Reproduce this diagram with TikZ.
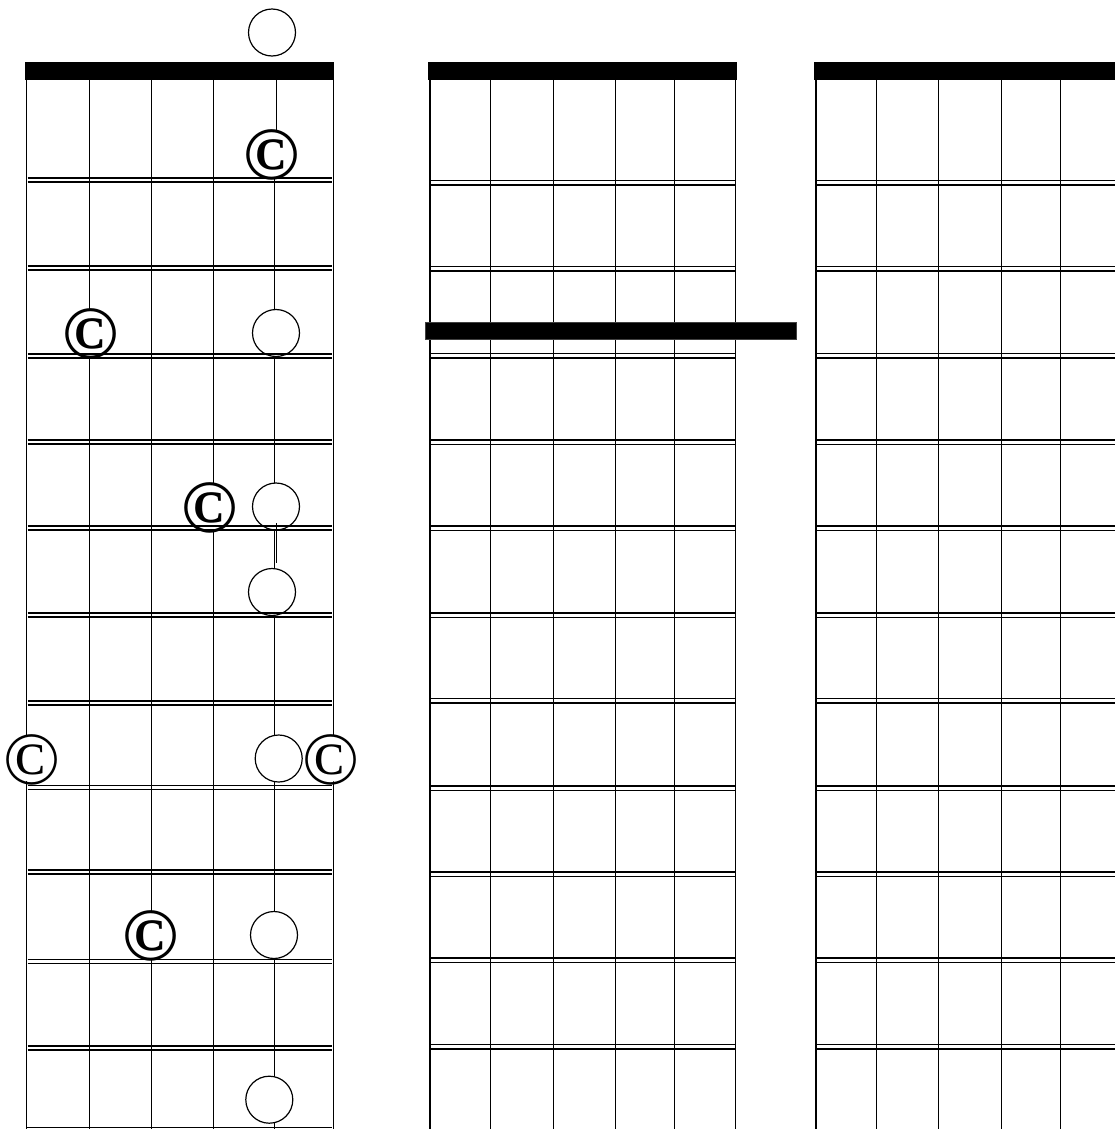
\documentclass[tikz,border=0pt]{standalone}
\usepackage{fontspec}
\setmainfont{Liberation Serif}
\begin{document}
\begin{tikzpicture}[x=1pt,y=-1pt,
  str/.style={line width=1.4pt},
  fret/.style={line width=1.25pt},
  nut/.style={fill=black},
  opendot/.style={circle,draw,line width=1.2pt,fill=white,minimum size=47pt,inner sep=0pt},
  cmark/.style={inner sep=0pt,font=\fontsize{75}{75}\selectfont},
  cbold/.style={inner sep=0pt,font=\fontsize{75}{75}\selectfont\bfseries},
  cback/.style={fill=white}]
\useasboundingbox (0,0) rectangle (1115,1130);
% ---------- strings ----------
\foreach \x in {26.5,89.3,151.3,213.3,333.3} \draw[str] (\x,80) -- (\x,1129);
\draw[str] (276.3,80) -- (276.3,150);
\draw[str] (274.3,150) -- (274.3,1129);
\foreach \x in {430,490.5,553.5,615.5,674.5,735.5} \draw[str] (\x,80) -- (\x,1129);
\foreach \x in {816,876.5,938.5,1001.5,1060.5} \draw[str] (\x,80) -- (\x,1129);
% ---------- nuts ----------
\fill[nut] (25,62) rectangle (334,80);
\fill[nut] (428,62) rectangle (737,80);
\fill[nut] (814,62) rectangle (1115,80);
\filldraw[nut,draw=black!75,line width=0.8pt] (425.3,322.3) rectangle (796.7,339.7);
% ---------- marks ----------
\node[opendot] (o0) at (272,32.5) {};
\fill[cback] (272,154) circle (23);
\node[cbold] (c1) at (272,155) {\textcopyright};
\fill[cback] (91,333) circle (23);
\node[cbold] (c2) at (91,334) {\textcopyright};
\node[opendot] (o1) at (276,333) {};
\fill[cback] (209.7,506.5) circle (23);
\node[cbold] (c3) at (209.7,507.5) {\textcopyright};
\node[opendot] (o2) at (276,506.5) {};
\node[opendot] (o3) at (272,592) {};
\fill[cback] (31.5,758.5) circle (23);
\node[cmark] (c4) at (31.5,759.5) {\textcopyright};
\node[opendot] (o4) at (278.7,758.5) {};
\fill[cback] (331,758.5) circle (23);
\node[cmark] (c5) at (331,759.5) {\textcopyright};
\fill[cback] (151,935) circle (23);
\node[cbold] (c6) at (151,936) {\textcopyright};
\node[opendot] (o5) at (274,935) {};
\node[opendot] (o6) at (269.3,1099.7) {};
% ---------- frets ----------
\foreach \y in {178,266,354,440,526,613,701,785.5,870,959.5,1046}
  \draw[fret] (27.5,\y) -- (332,\y) (27.5,{\y+4}) -- (332,{\y+4});
\draw[fret] (27,1127.5) -- (332,1127.5);
\foreach \y in {180.5,266.5,353.5,440,526,613,698.5,786,872,958,1044.5}
  \draw[fret] (430.5,\y) -- (735,\y) (430.5,{\y+4.5}) -- (735,{\y+4.5});
\foreach \y in {180.5,266.5,353.5,440,526,613,698.5,786,872,958,1044.5}
  \draw[fret] (816.5,\y) -- (1115,\y) (816.5,{\y+4.5}) -- (1115,{\y+4.5});
% ---------- short string piece over the circle ----------
\draw[str] (276.7,523) -- (276.7,563);
\end{tikzpicture}
\end{document}
